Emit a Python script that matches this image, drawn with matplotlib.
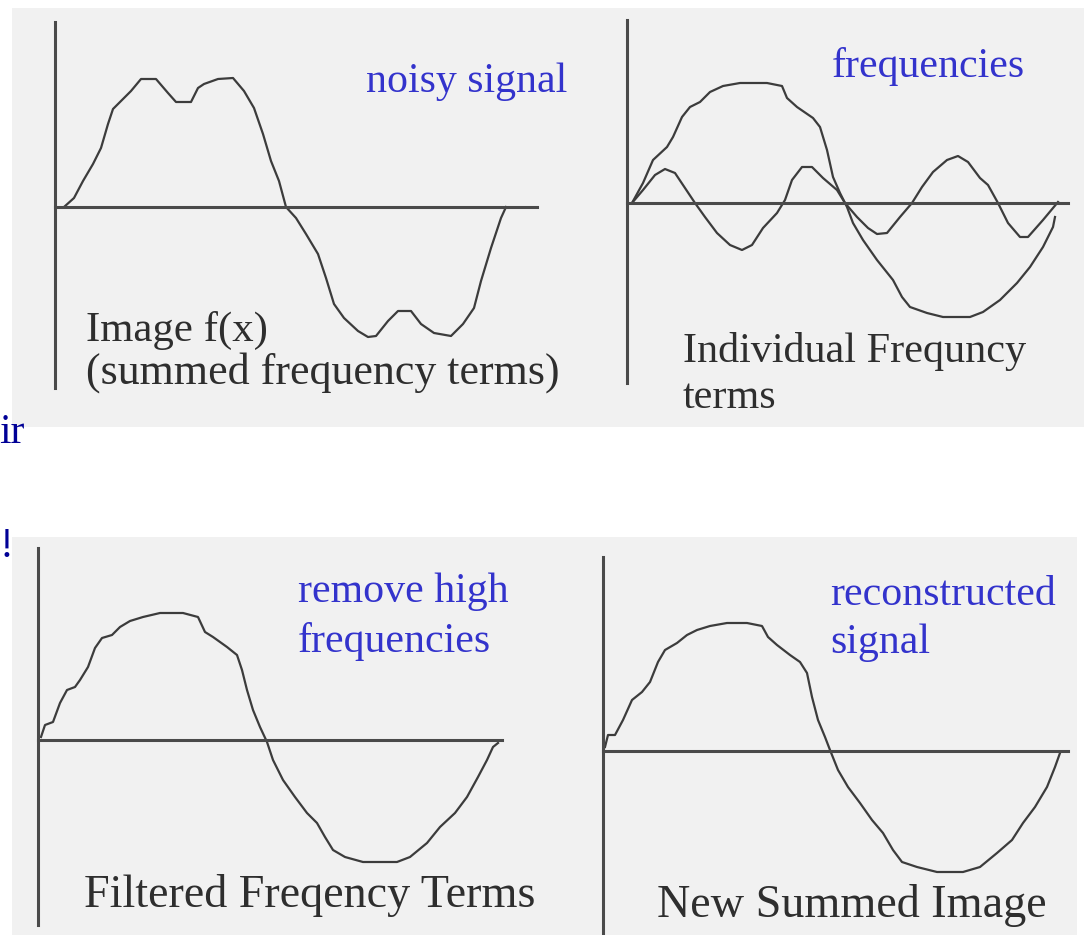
import matplotlib
matplotlib.use("Agg")
import matplotlib.pyplot as plt
from matplotlib.patches import Rectangle

# ---------------- data (x = distance along the axis, y = height above baseline) -------------
noisy_x = [9, 19, 28, 38, 46, 53, 58, 66, 76, 86, 101, 113, 121, 136, 143, 149, 163, 178, 189, 199,
           208, 216, 224, 231, 241, 251, 263, 271, 279, 289, 303, 313, 321, 333, 343, 356, 366, 379,
           396, 408, 419, 426, 436, 446, 451]
noisy_y = [0, 9, 26, 43, 59, 83, 98, 106, 116, 128, 128, 114, 105, 105, 119, 123, 128, 129, 116, 99,
           73, 46, 26, 0, -11, -27, -47, -71, -97, -111, -124, -130, -129, -114, -104, -104, -117, -126,
           -129, -117, -101, -74, -41, -11, 0]

low_x = [5, 16, 26, 40, 46, 55, 63, 73, 83, 96, 113, 140, 155, 160, 170, 186, 193, 200, 206, 213,
         220, 226, 236, 250, 266, 275, 283, 300, 316, 343, 356, 373, 390, 403, 416, 426, 428]
low_y = [0, 20, 43, 56, 66, 86, 96, 101, 111, 117, 120, 120, 117, 105, 96, 85, 76, 53, 26, 10,
         -4, -20, -37, -57, -77, -94, -104, -110, -114, -114, -109, -97, -80, -64, -44, -24, -14]

high_x = [5, 16, 28, 38, 48, 58, 68, 78, 90, 103, 115, 125, 136, 150, 158, 165, 175, 185, 196, 210,
          218, 230, 241, 250, 260, 273, 285, 295, 306, 320, 331, 341, 353, 361, 371, 381, 393, 401,
          416, 431]
high_y = [0, 13, 28, 34, 30, 15, 0, -14, -30, -42, -47, -42, -25, -10, 3, 23, 36, 36, 25, 13,
          0, -14, -25, -31, -30, -14, 0, 16, 31, 43, 47, 41, 25, 18, 0, -20, -34, -34,
          -17, 1]

filtered_x = [3, 7, 15, 22, 29, 37, 42, 50, 57, 64, 74, 82, 92, 105, 122, 145, 160, 167, 175, 189,
              199, 204, 209, 215, 222, 229, 235, 245, 257, 269, 279, 287, 295, 307, 325, 359, 372,
              389, 402, 417, 429, 440, 449, 455, 460]
filtered_y = [3, 15, 18, 37, 50, 53, 60, 73, 92, 102, 105, 113, 119, 123, 127, 127, 123, 108, 103, 93,
              85, 70, 50, 30, 13, -2, -20, -40, -57, -73, -83, -97, -110, -117, -122, -122, -117,
              -103, -87, -73, -57, -37, -20, -7, -3]

recon_x = [2, 5, 12, 20, 29, 39, 47, 55, 62, 74, 84, 94, 107, 124, 144, 159, 165, 174, 187, 197,
           204, 209, 215, 222, 227, 235, 245, 257, 269, 280, 290, 299, 314, 334, 360, 377, 394,
           409, 420, 432, 444, 452, 457]
recon_y = [4, 16, 16, 31, 51, 59, 69, 89, 101, 108, 116, 121, 125, 128, 128, 125, 114, 106, 96, 89,
           78, 54, 31, 14, 1, -19, -36, -52, -69, -82, -99, -111, -116, -121, -121, -116, -102,
           -89, -72, -56, -36, -16, -2]

labels_gray = ["Image f(x)", "(summed frequency terms)", "Individual Frequncy", "terms",
               "Filtered Freqency Terms", "New Summed Image"]
labels_blue = ["noisy signal", "frequencies", "remove high", "frequencies", "reconstructed", "signal"]

# ---------------- figure -------------
W, H = 1084, 935
fig = plt.figure(figsize=(W / 100, H / 100), dpi=100)
fig.patch.set_facecolor("white")

BG = "#f1f1f1"
fig.patches.append(Rectangle((12 / W, 1 - 427 / H), (1084 - 12) / W, (427 - 8) / H,
                             transform=fig.transFigure, facecolor=BG, edgecolor="none", zorder=-5))
fig.patches.append(Rectangle((12 / W, 0), (1077 - 12) / W, (935 - 537) / H,
                             transform=fig.transFigure, facecolor=BG, edgecolor="none", zorder=-5))

LINE = "#3c3c3c"
AXC = "#4a4a4a"


def panel(rect_px, origin, vbounds, hend):
    L, T, R, B = rect_px
    ox, oy = origin
    ax = fig.add_axes([L / W, 1 - B / H, (R - L) / W, (B - T) / H])
    ax.set_zorder(1)
    ax.set_xlim(L - ox, R - ox)
    ax.set_ylim(oy - B, oy - T)
    ax.patch.set_visible(False)
    for s in ("top", "right"):
        ax.spines[s].set_visible(False)
    ax.spines["left"].set_position(("data", 0))
    ax.spines["left"].set_bounds(*vbounds)
    ax.spines["bottom"].set_position(("data", 0))
    ax.spines["bottom"].set_bounds(0, hend)
    for s in ("left", "bottom"):
        ax.spines[s].set_color(AXC)
        ax.spines[s].set_linewidth(2.2)
    ax.set_xticks([])
    ax.set_yticks([])
    return ax


ax1 = panel((12, 8, 590, 427), (55, 207), (-181, 185), 482)
ax1.plot(noisy_x, noisy_y, color=LINE, lw=1.6, solid_joinstyle="round")

ax2 = panel((590, 8, 1084, 427), (627, 203), (-180, 183), 441)
ax2.plot(low_x, low_y, color=LINE, lw=1.6, solid_joinstyle="round")
ax2.plot(high_x, high_y, color=LINE, lw=1.6, solid_joinstyle="round")

ax3 = panel((12, 537, 590, 935), (38, 740), (-185, 192), 464)
ax3.plot(filtered_x, filtered_y, color=LINE, lw=1.6, solid_joinstyle="round")

ax4 = panel((590, 537, 1077, 935), (603, 751), (-190, 194), 465)
ax4.plot(recon_x, recon_y, color=LINE, lw=1.6, solid_joinstyle="round")

SERIF = ["Liberation Serif", "DejaVu Serif"]


def txt(x, y, s, size, color):
    t = fig.text(x / W, 1 - y / H, s, ha="left", va="baseline", fontsize=size,
                 color=color, family=SERIF)
    t.set_zorder(5)


GRAY = "#2e2e2e"
txt(86, 341, labels_gray[0], 30.8, GRAY)
txt(86, 384, labels_gray[1], 31.7, GRAY)
txt(683, 362, labels_gray[2], 30.4, GRAY)
txt(683, 408, labels_gray[3], 30.4, GRAY)
txt(84, 907, labels_gray[4], 33.2, GRAY)
txt(657, 917, labels_gray[5], 33.2, GRAY)

BLUE = "#3333cc"
txt(366, 92, labels_blue[0], 30.2, BLUE)
txt(832, 77, labels_blue[1], 30.2, BLUE)
txt(298, 602, labels_blue[2], 30.2, BLUE)
txt(298, 652, labels_blue[3], 30.2, BLUE)
txt(830, 605, labels_blue[4], 30.2, BLUE)
txt(830, 653, labels_blue[5], 30.2, BLUE)

NAVY = "#000096"
txt(-1, 443, "ir", 30, NAVY)
txt(0, 557, "!", 30, NAVY)

fig.savefig("out.png", dpi=100, facecolor="white")
